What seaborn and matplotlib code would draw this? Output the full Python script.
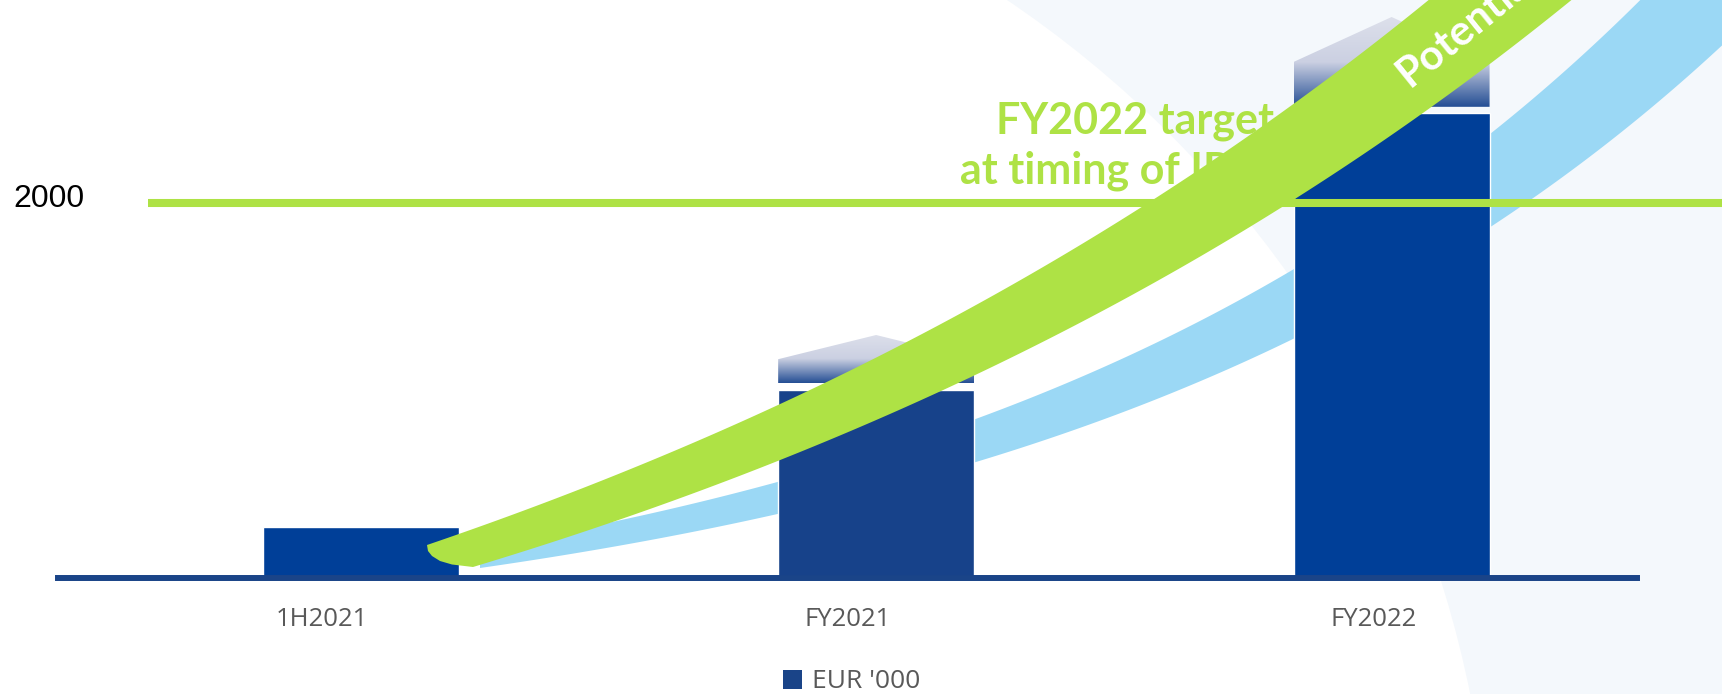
import numpy as np
import pandas as pd
import matplotlib
matplotlib.use("Agg")
import matplotlib.pyplot as plt
import seaborn as sns
from matplotlib.patches import Polygon, Circle, Rectangle, Patch
from matplotlib.colors import LinearSegmentedColormap
from matplotlib import transforms

# ---------------- data ----------------
categories = ["1H2021", "FY2021", "FY2022"]
revenue = [270, 1005, 2480]            # EUR '000
potential_top = [None, 1296, 2992]     # top of the "potential" upside arrows
target_value = 2000
y_tick_label = "2000"
legend_label = "EUR '000"
target_lines = ["FY2022 target", "at timing of IPO"]
ribbon_label = "Potential"

# ---------------- styles ----------------
bar_colors = ["#003f98", "#17428a", "#003f98"]
GREEN = "#aee245"
LIGHT_BLUE = "#9bd8f5"
PALE = "#f4f8fc"
AXIS_BLUE = "#1a4488"
GREY = "#595959"

W, H = 1722, 694
sns.set_style("white")
fig = plt.figure(figsize=(W / 100, H / 100), dpi=100)

# background / decoration layer in pixel coordinates
ax_bg = fig.add_axes([0, 0, 1, 1], zorder=0)
ax_bg.set_xlim(0, W)
ax_bg.set_ylim(H, 0)
ax_bg.axis("off")
ax_bg.add_patch(Rectangle((0, 0), W, H, color=PALE, lw=0))
ax_bg.add_patch(Circle((391.5, 912.4), 1100.6, color="white", lw=0))


def blue_lower(x):
    return 568 - 96 * (np.exp(0.0015 * (x - 480)) - 1)


xb = np.linspace(480, 1800, 400)
blue_poly = np.vstack([
    np.column_stack([xb, blue_lower(xb)]),
    np.column_stack([xb[::-1], blue_lower(xb[::-1] + 129)]),
])
ax_bg.add_patch(Polygon(blue_poly, closed=True, fc=LIGHT_BLUE, ec="none"))

px = ax_bg.transData

# main chart
ax = fig.add_axes([58 / W, (H - 578) / H, (1637 - 58) / W, 578 / H], zorder=1)
ax.patch.set_alpha(0)
df = pd.DataFrame({"period": categories, "revenue": revenue})
sns.barplot(data=df, x="period", y="revenue", hue="period", palette=bar_colors,
            width=0.38, saturation=1, legend=False, ax=ax, zorder=2)

half = 0.19
gap = 33
cmap = LinearSegmentedColormap.from_list(
    "up", [(0, "#244e94"), (0.5, "#cbd0e2"), (1, "#dde0eb")])
for i, top in enumerate(potential_top):
    if top is None:
        continue
    bottom = revenue[i] + gap
    mid = (bottom + top) / 2
    verts = [(i - half, bottom), (i + half, bottom), (i + half, mid),
             (i, top), (i - half, mid)]
    poly = Polygon(verts, closed=True, fc="none", ec="none", transform=ax.transData)
    ax.add_patch(poly)
    grad = np.linspace(0, 1, 256).reshape(-1, 1)
    im = ax.imshow(grad, extent=[i - half, i + half, bottom, top], origin="lower",
                   cmap=cmap, aspect="auto", zorder=2, interpolation="bilinear")
    im.set_clip_path(poly)

ax.plot([(148 - 58) / 1579, (1722 - 58) / 1579], [target_value, target_value],
        transform=ax.get_yaxis_transform(), color=GREEN, lw=5.8,
        solid_capstyle="butt", clip_on=False, zorder=3)

ax.set_xlim(-0.587, 2.476)
ax.set_ylim(0, 578 / 0.1875)
for s in ["top", "left", "right"]:
    ax.spines[s].set_visible(False)
ax.spines["bottom"].set_color(AXIS_BLUE)
ax.spines["bottom"].set_linewidth(4.3)
ax.spines["bottom"].set_zorder(5)
ax.set_yticks([])
ax.set_xlabel("")
ax.set_ylabel("")
ax.set_xticks(range(len(categories)))
ax.set_xticklabels(categories)
ax.tick_params(axis="x", length=0, pad=21, labelsize=18.5, labelcolor=GREY)
for lab, off in zip(ax.get_xticklabels(), [-39, -28, -18]):
    lab.set_fontfamily("Open Sans")
    lab.set_transform(lab.get_transform() +
                      transforms.ScaledTranslation(off / 100, 0, fig.dpi_scale_trans))

ax.text(13, 207, y_tick_label, transform=px, ha="left", va="baseline",
        fontsize=23, family="Liberation Sans", color="black")
ax.text(1274, 133, target_lines[0], transform=px, ha="right", va="baseline",
        fontsize=31, family="Lato", weight="bold", color=GREEN, zorder=4)
ax.text(960, 183, target_lines[1], transform=px, ha="left", va="baseline",
        fontsize=31, family="Lato", weight="bold", color=GREEN, zorder=4)

fig.legend(handles=[Patch(facecolor=AXIS_BLUE, edgecolor="none")], labels=[legend_label],
           loc="center", bbox_to_anchor=(852 / W, (H - 682) / H), frameon=False,
           handlelength=0.7, handleheight=0.7, handletextpad=0.4,
           prop={"family": "Open Sans", "size": 19}, labelcolor=GREY)

# foreground ribbon
ax_fg = fig.add_axes([0, 0, 1, 1], zorder=2)
ax_fg.set_xlim(0, W)
ax_fg.set_ylim(H, 0)
ax_fg.axis("off")
ax_fg.patch.set_alpha(0)


def green_upper(x):
    return 545 - 392 * (np.exp(0.00087 * (x - 427)) - 1)


def green_lower(x):
    return 567 - 336 * (np.exp(0.0009 * (x - 473)) - 1)


xu = np.linspace(427, 1500, 300)
xl = np.linspace(473, 1650, 300)
tip = np.array([[452, 564.5], [440, 561], [432, 556], [428, 551]])
green_poly = np.vstack([
    np.column_stack([xu, green_upper(xu)]),
    np.column_stack([xl[::-1], green_lower(xl[::-1])]),
    tip,
])
ax_fg.add_patch(Polygon(green_poly, closed=True, fc=GREEN, ec="none"))
ax_fg.text(1410, 88, ribbon_label, rotation=39, rotation_mode="anchor",
           ha="left", va="baseline", color="white", fontsize=30,
           weight="bold", family="Lato")

fig.savefig("out.png", dpi=100)
